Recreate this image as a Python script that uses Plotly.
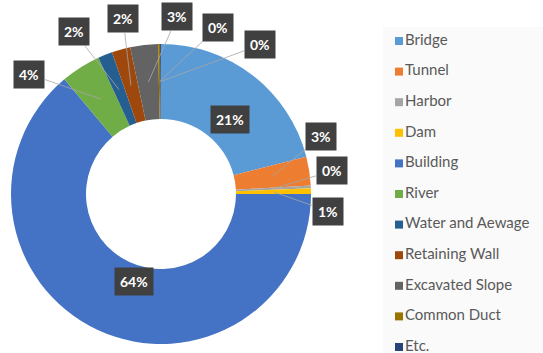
import math
import plotly.graph_objects as go

# Share of inspected structures by facility type (percent)
categories = ["Bridge", "Tunnel", "Harbor", "Dam", "Building", "River",
              "Water and Aewage", "Retaining Wall", "Excavated Slope",
              "Common Duct", "Etc."]
shares = [21.0, 3.1, 0.3, 0.6, 63.85, 4.3, 1.55, 2.0, 3.0, 0.2, 0.1]

colors = ["#5B9BD5", "#ED7D31", "#A5A5A5", "#FFC000", "#4472C4", "#70AD47",
          "#255E91", "#9E480E", "#636363", "#997300", "#264478"]

W, H = 543, 353
CX, CY, R = 161, 194, 150  # donut centre and outer radius, px
HOLE = 0.5

# Label box centres in px (None = label sits inside the slice, no leader)
label_boxes = [None, (321, 136), (332, 171), (328, 211), None, (29, 74),
               (74, 32), (123, 18), (177, 17), (218, 27), (260, 45)]

fig = go.Figure()

fig.add_trace(go.Pie(
    labels=categories,
    values=shares,
    hole=HOLE,
    sort=False,
    direction="clockwise",
    rotation=0,
    marker=dict(colors=colors, line=dict(width=0)),
    textinfo="none",
    hoverinfo="label+percent",
    showlegend=False,
    domain=dict(x=[(CX - R) / W, (CX + R) / W],
                y=[1 - (CY + R) / H, 1 - (CY - R) / H]),
))

# Legend drawn as a marker/text column
fig.add_trace(go.Scatter(
    x=[0.1] * len(categories),
    y=list(range(len(categories))),
    mode="markers+text",
    marker=dict(symbol="square", size=8, color=colors),
    text=categories,
    textposition="middle right",
    textfont=dict(family="Lato", size=15, color="#595959"),
    hoverinfo="skip",
    showlegend=False,
    cliponaxis=False,
))

total = sum(shares)
annotations = []
cum = 0.0
for cat, v, box in zip(categories, shares, label_boxes):
    mid = (cum + v / 2) / total * 2 * math.pi
    cum += v
    rmid = R * (1 + HOLE) / 2
    tx = CX + rmid * math.sin(mid)
    ty = CY - rmid * math.cos(mid)
    pct = f"{round(v / total * 100):d}%"
    common = dict(
        text=f"<b>{pct}</b>",
        font=dict(family="Lato", size=14, color="white"),
        bgcolor="#404040",
        borderpad=5,
        xref="paper", yref="paper",
        x=tx / W, y=1 - ty / H,
    )
    if box is None:
        annotations.append(dict(showarrow=False, **common))
    else:
        annotations.append(dict(
            showarrow=True, arrowhead=0, arrowwidth=0.8,
            arrowcolor="#A6A6A6", standoff=0,
            ax=box[0] - tx, ay=box[1] - ty,
            **common))

fig.update_layout(
    width=W, height=H,
    margin=dict(l=0, r=0, t=0, b=0),
    paper_bgcolor="white",
    plot_bgcolor="rgba(0,0,0,0)",
    annotations=annotations,
    xaxis=dict(domain=[383 / W, 1], range=[0, 1], visible=False, fixedrange=True),
    yaxis=dict(domain=[0, 1], range=[10 + 6 / 30.6, -41 / 30.6],
               visible=False, fixedrange=True),
    shapes=[dict(type="rect", xref="paper", yref="paper",
                 x0=383 / W, x1=1, y0=0, y1=1 - 27 / H,
                 fillcolor="#FAFAFA", line=dict(width=0), layer="below")],
)

fig.write_html("out.html")
